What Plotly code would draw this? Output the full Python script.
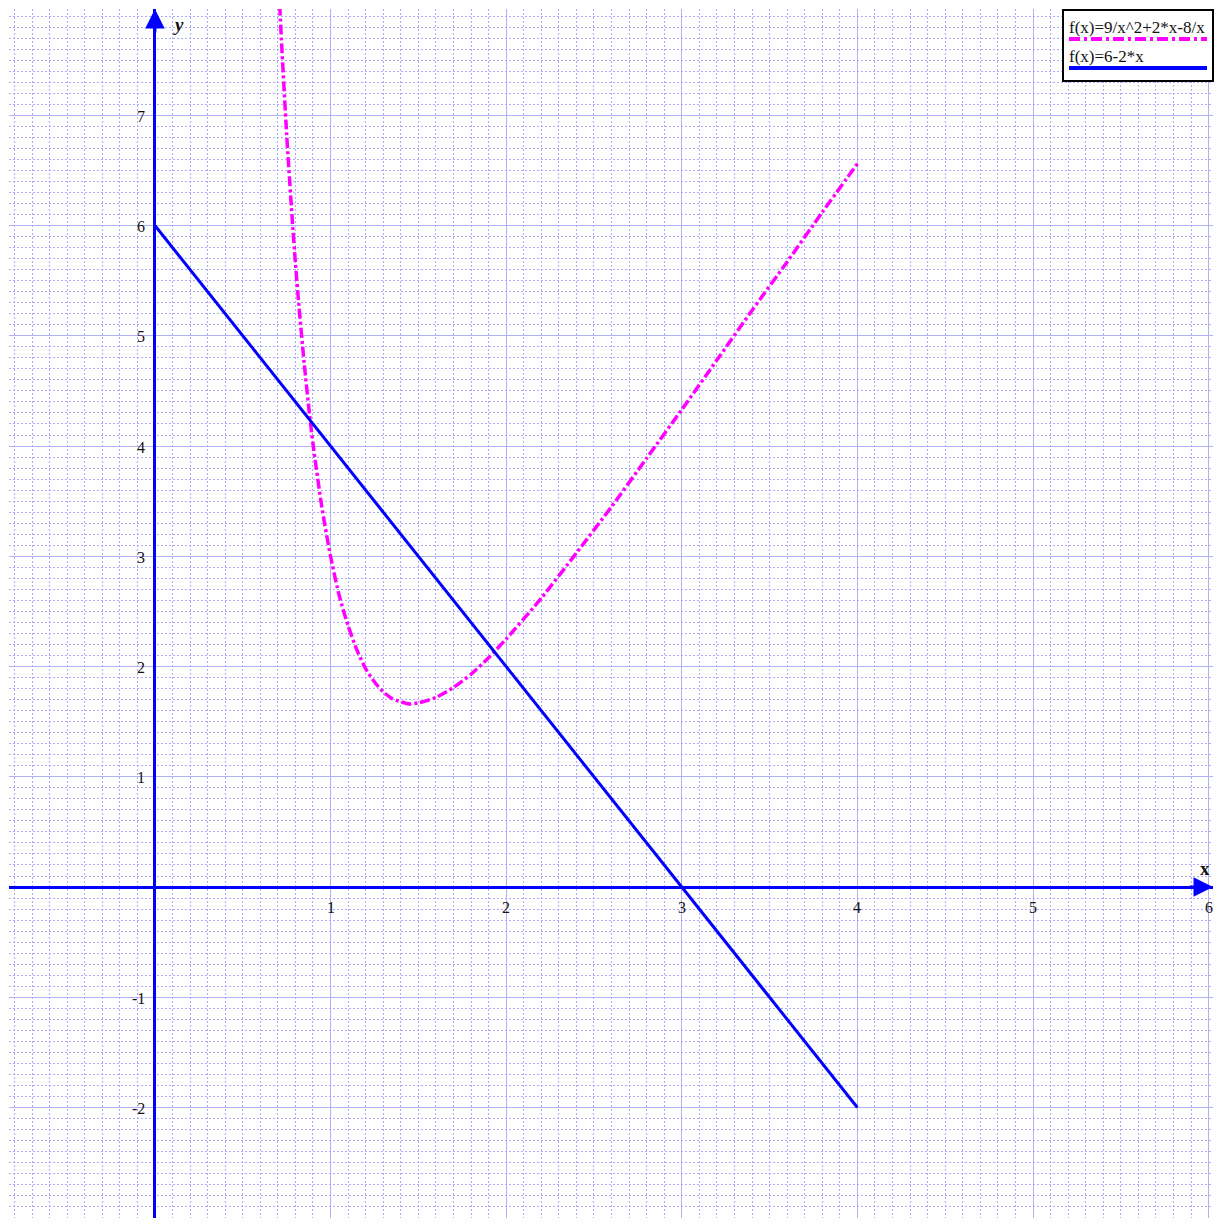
import plotly.graph_objects as go

# ---- data ----
line_x = [0, 4]
line_y = [6, -2]

curve_x = [0.70, 0.72, 0.75, 0.78, 0.80, 0.82, 0.85, 0.88, 0.90, 0.95, 1.00, 1.05, 1.10, 1.15,
           1.20, 1.25, 1.30, 1.35, 1.40, 1.45, 1.50, 1.60, 1.70, 1.80, 1.90, 2.00, 2.20,
           2.40, 2.60, 2.80, 3.00, 3.20, 3.40, 3.60, 3.80, 4.00]
curve_y = [8.34, 7.69, 6.83, 6.10, 5.66, 5.27, 4.75, 4.29, 4.02, 3.45, 3.00, 2.64, 2.37, 2.15,
           1.98, 1.86, 1.77, 1.71, 1.68, 1.66, 1.67, 1.72, 1.81, 1.93, 2.08, 2.25, 2.62,
           3.03, 3.45, 3.89, 4.33, 4.78, 5.23, 5.67, 6.12, 6.56]

x_tick_labels = [1, 2, 3, 4, 5, 6]
y_tick_labels = [7, 6, 5, 4, 3, 2, 1, -1, -2]

legend_names = ["f(x)=9/x^2+2*x-8/x", "f(x)=6-2*x"]

X_RANGE = [-0.831, 6.025]
Y_RANGE = [-3.002, 7.964]

W, H = 1221, 1220
ML, MR, MT, MB = 9, 8, 9, 2
PW, PH = W - ML - MR, H - MT - MB

BLUE = "#0000FF"
MAGENTA = "#FF00FF"
MAJOR = "#B0B0F6"
MINOR = "#ACACFF"
SERIF = "Liberation Serif, Times New Roman, serif"

fig = go.Figure()

fig.add_trace(go.Scatter(
    x=curve_x, y=curve_y, mode="lines", name=legend_names[0],
    line=dict(color=MAGENTA, width=3.5, dash="10px,3px,3px,3px", shape="spline", smoothing=0.6),
    showlegend=False, hoverinfo="skip"))
fig.add_trace(go.Scatter(
    x=line_x, y=line_y, mode="lines", name=legend_names[1],
    line=dict(color=BLUE, width=3), showlegend=False, hoverinfo="skip"))

axis_common = dict(
    tickmode="linear", tick0=0, dtick=1, showticklabels=False, ticks="",
    showgrid=True, gridcolor=MAJOR, gridwidth=1.4,
    zeroline=True, zerolinecolor=BLUE, zerolinewidth=3,
    showline=False, fixedrange=True,
    minor=dict(tickmode="linear", tick0=0, dtick=0.1, showgrid=True,
               gridcolor=MINOR, gridwidth=1, griddash="2px,2px", ticks=""),
)
fig.update_xaxes(range=X_RANGE, **axis_common)
fig.update_yaxes(range=Y_RANGE, **axis_common)

ann = []
for v in x_tick_labels:
    ann.append(dict(x=v, y=0, text=str(v), showarrow=False, xanchor="center", yanchor="top",
                    yshift=-10, font=dict(family=SERIF, size=16, color="#111")))
for v in y_tick_labels:
    ann.append(dict(x=0, y=v, text=str(v), showarrow=False, xanchor="right", yanchor="middle",
                    xshift=-8, yshift=-1, font=dict(family=SERIF, size=16, color="#111")))
# axis labels
ann.append(dict(x=5.98, y=0.17, text="<b>x</b>", showarrow=False, xanchor="center", yanchor="middle",
                font=dict(family=SERIF, size=19, color="#111")))
ann.append(dict(x=0.137, y=7.82, text="<b><i>y</i></b>", showarrow=False, xanchor="center", yanchor="middle",
                font=dict(family=SERIF, size=19, color="#111")))
# arrowheads
ann.append(dict(x=0, y=Y_RANGE[1], ax=0, ay=25, showarrow=True, arrowhead=2, arrowsize=1.3,
                arrowwidth=3, arrowcolor=BLUE, text=""))
ann.append(dict(x=X_RANGE[1], y=0, ax=-25, ay=0, showarrow=True, arrowhead=2, arrowsize=1.3,
                arrowwidth=3, arrowcolor=BLUE, text=""))

def px(xp):
    return (xp - ML) / PW

def py(yp):
    return (H - MB - yp) / PH

shapes = [
    dict(type="rect", xref="paper", yref="paper", x0=px(1063), x1=px(1213), y0=py(81), y1=py(10),
         line=dict(color="black", width=2), fillcolor="white", layer="above"),
    dict(type="line", xref="paper", yref="paper", x0=px(1069), x1=px(1207), y0=py(39), y1=py(39),
         line=dict(color=MAGENTA, width=4, dash="11px,4px,3px,4px"), layer="above"),
    dict(type="line", xref="paper", yref="paper", x0=px(1069), x1=px(1207), y0=py(68), y1=py(68),
         line=dict(color=BLUE, width=4), layer="above"),
]
ann.append(dict(xref="paper", yref="paper", x=px(1067), y=py(27), text=legend_names[0], showarrow=False,
                xanchor="left", yanchor="middle", font=dict(family=SERIF, size=17, color="#111")))
ann.append(dict(xref="paper", yref="paper", x=px(1067), y=py(56), text=legend_names[1], showarrow=False,
                xanchor="left", yanchor="middle", font=dict(family=SERIF, size=17, color="#111")))

fig.update_layout(
    width=W, height=H, autosize=False,
    margin=dict(l=ML, r=MR, t=MT, b=MB, pad=0),
    paper_bgcolor="white", plot_bgcolor="white",
    showlegend=False, annotations=ann, shapes=shapes,
)

fig.write_html("out.html", config={"displayModeBar": False},
               post_script="document.body.style.margin='0px';document.body.style.overflow='hidden';"
                           "document.documentElement.style.overflow='hidden';")
